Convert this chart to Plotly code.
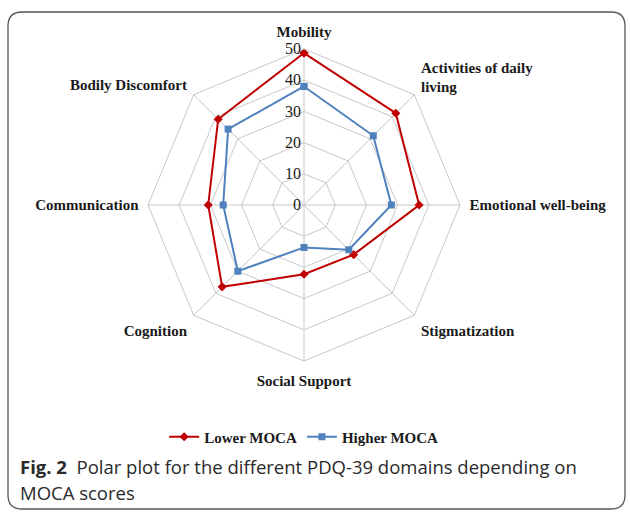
import plotly.graph_objects as go

categories = ["Mobility", "Activities of daily<br>living", "Emotional well-being",
              "Stigmatization", "Social Support", "Cognition", "Communication",
              "Bodily Discomfort"]
lower_moca = [48.7, 41.6, 36.9, 22.5, 22.2, 37.1, 30.7, 38.9]
higher_moca = [38.0, 31.4, 28.0, 20.3, 13.6, 30.0, 25.9, 34.4]
radial_ticks = [0, 10, 20, 30, 40, 50]

W, H = 630, 513
serif = "Liberation Serif"

fig = go.Figure()
fig.add_trace(go.Scatterpolar(
    r=lower_moca + lower_moca[:1], theta=categories + categories[:1],
    mode="lines+markers", name="<b>Lower MOCA</b>",
    line=dict(color="#C00000", width=2),
    marker=dict(symbol="diamond", size=7, color="#C00000")))
fig.add_trace(go.Scatterpolar(
    r=higher_moca + higher_moca[:1], theta=categories + categories[:1],
    mode="lines+markers", name="<b>Higher MOCA</b>",
    line=dict(color="#4F81BD", width=2),
    marker=dict(symbol="square", size=7, color="#4F81BD")))

cx, cy, R = 304, 205, 156
fig.update_layout(
    width=W, height=H, margin=dict(l=0, r=0, t=0, b=0),
    paper_bgcolor="white", plot_bgcolor="white",
    font=dict(family=serif, size=15, color="#1a1a1a"),
    polar=dict(
        domain=dict(x=[(cx - R) / W, (cx + R) / W],
                    y=[(H - cy - R) / H, (H - cy + R) / H]),
        bgcolor="white",
        gridshape="linear",
        radialaxis=dict(range=[0, 50], tickvals=radial_ticks, angle=90,
                        side="counterclockwise", tickangle=90,
                        showline=False, gridcolor="#c8c8c8", gridwidth=1,
                        ticks="", tickfont=dict(family=serif, size=16, color="#1a1a1a"),
                        tickprefix="<b>", ticksuffix="</b>"),
        angularaxis=dict(rotation=90, direction="clockwise",
                         categoryorder="array", categoryarray=categories,
                         tickmode="array", tickvals=categories,
                         ticktext=["<b>" + c.replace("<br>", "</b><br><b>") + "</b>" for c in categories],
                         gridcolor="#c8c8c8", linecolor="#c8c8c8", linewidth=1,
                         ticks="outside", ticklen=6, tickcolor="rgba(0,0,0,0)",
                         tickfont=dict(family=serif, size=15, color="#1a1a1a")),
    ),
    legend=dict(orientation="h", x=0.482, xanchor="center", y=(H - 437) / H,
                yanchor="middle", font=dict(family=serif, size=15, color="#1a1a1a"),
                bgcolor="rgba(0,0,0,0)", itemwidth=30),
)

# caption
fig.add_annotation(xref="paper", yref="paper", x=18 / W, y=1 - 466 / H,
                   xanchor="left", yanchor="middle", showarrow=False, align="left",
                   text="<b>Fig. 2</b>  Polar plot for the different PDQ-39 domains depending on",
                   font=dict(family="Open Sans", size=18.5, color="#2a2a2a"))
fig.add_annotation(xref="paper", yref="paper", x=18 / W, y=1 - 492 / H,
                   xanchor="left", yanchor="middle", showarrow=False, align="left",
                   text="MOCA scores",
                   font=dict(family="Open Sans", size=18.5, color="#2a2a2a"))

# rounded border
x0, x1, y0, y1, rr = 8, 625, 12, 509, 14
def px(x): return x / W
def py(y): return 1 - y / H
path = (f"M {px(x0+rr)},{py(y0)} L {px(x1-rr)},{py(y0)} Q {px(x1)},{py(y0)} {px(x1)},{py(y0+rr)} "
        f"L {px(x1)},{py(y1-rr)} Q {px(x1)},{py(y1)} {px(x1-rr)},{py(y1)} "
        f"L {px(x0+rr)},{py(y1)} Q {px(x0)},{py(y1)} {px(x0)},{py(y1-rr)} "
        f"L {px(x0)},{py(y0+rr)} Q {px(x0)},{py(y0)} {px(x0+rr)},{py(y0)} Z")
fig.add_shape(type="path", xref="paper", yref="paper", path=path,
              line=dict(color="#555555", width=1.3))

fig.write_html("out.html", config={"displayModeBar": False},
               post_script="document.body.style.margin='0';")
